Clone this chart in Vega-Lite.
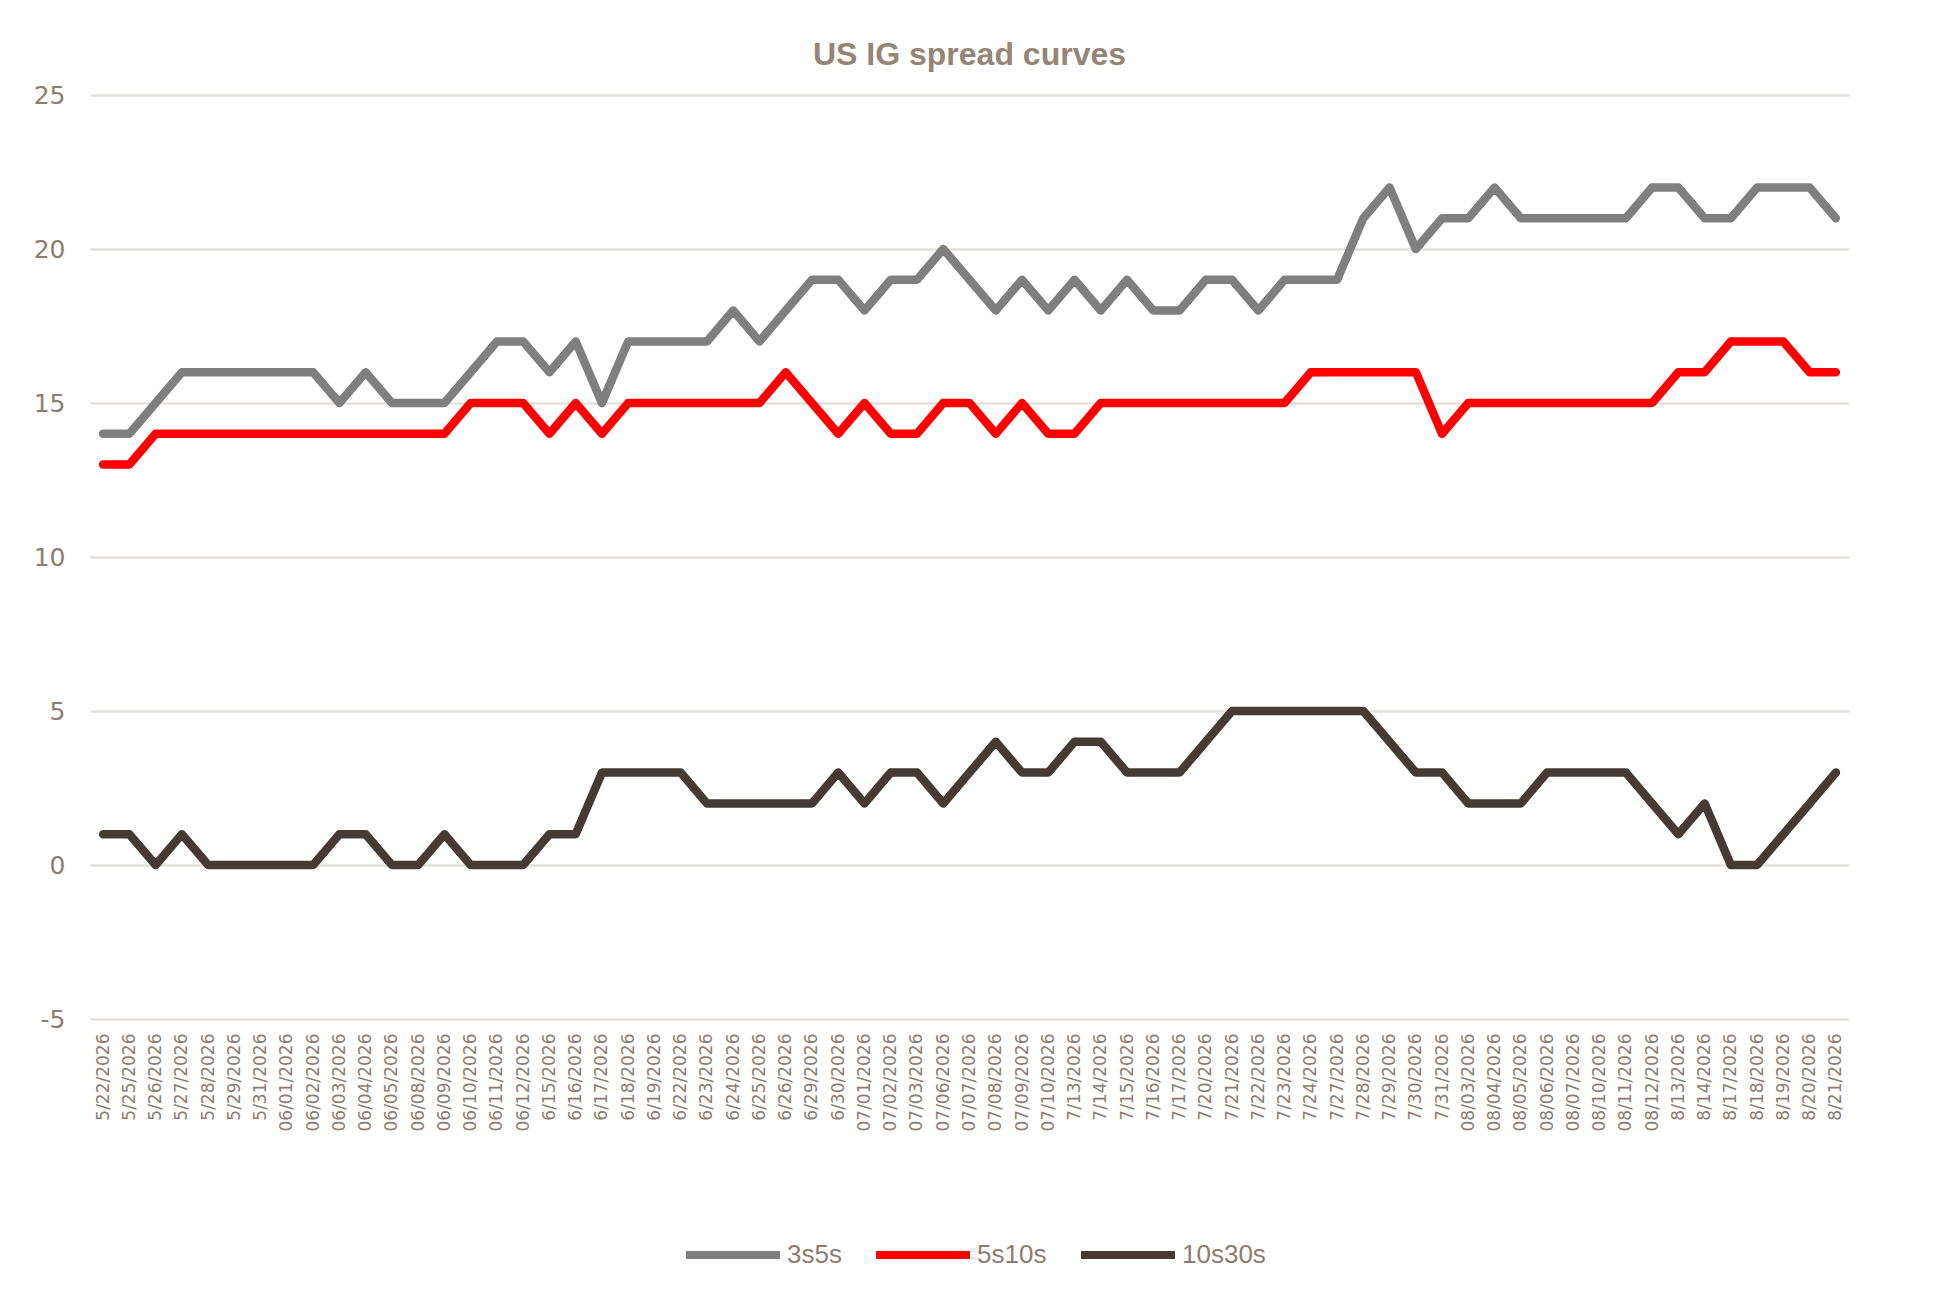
{
  "$schema": "https://vega.github.io/schema/vega-lite/v6.json",
  "autosize": "none",
  "width": 1759,
  "height": 924,
  "padding": {"left": 90, "top": 95, "right": 86, "bottom": 297},
  "background": "white",
  "title": {
    "text": "US IG spread curves",
    "font": "Liberation Sans",
    "fontSize": 32,
    "fontWeight": "bold",
    "color": "#948576",
    "anchor": "middle",
    "offset": 11
  },
  "data": {
    "values": [
      {"d": "5/22/2026", "s": "3s5s", "v": 14}, {"d": "5/22/2026", "s": "5s10s", "v": 13}, {"d": "5/22/2026", "s": "10s30s", "v": 1},
      {"d": "5/25/2026", "s": "3s5s", "v": 14}, {"d": "5/25/2026", "s": "5s10s", "v": 13}, {"d": "5/25/2026", "s": "10s30s", "v": 1},
      {"d": "5/26/2026", "s": "3s5s", "v": 15}, {"d": "5/26/2026", "s": "5s10s", "v": 14}, {"d": "5/26/2026", "s": "10s30s", "v": 0},
      {"d": "5/27/2026", "s": "3s5s", "v": 16}, {"d": "5/27/2026", "s": "5s10s", "v": 14}, {"d": "5/27/2026", "s": "10s30s", "v": 1},
      {"d": "5/28/2026", "s": "3s5s", "v": 16}, {"d": "5/28/2026", "s": "5s10s", "v": 14}, {"d": "5/28/2026", "s": "10s30s", "v": 0},
      {"d": "5/29/2026", "s": "3s5s", "v": 16}, {"d": "5/29/2026", "s": "5s10s", "v": 14}, {"d": "5/29/2026", "s": "10s30s", "v": 0},
      {"d": "5/31/2026", "s": "3s5s", "v": 16}, {"d": "5/31/2026", "s": "5s10s", "v": 14}, {"d": "5/31/2026", "s": "10s30s", "v": 0},
      {"d": "06/01/2026", "s": "3s5s", "v": 16}, {"d": "06/01/2026", "s": "5s10s", "v": 14}, {"d": "06/01/2026", "s": "10s30s", "v": 0},
      {"d": "06/02/2026", "s": "3s5s", "v": 16}, {"d": "06/02/2026", "s": "5s10s", "v": 14}, {"d": "06/02/2026", "s": "10s30s", "v": 0},
      {"d": "06/03/2026", "s": "3s5s", "v": 15}, {"d": "06/03/2026", "s": "5s10s", "v": 14}, {"d": "06/03/2026", "s": "10s30s", "v": 1},
      {"d": "06/04/2026", "s": "3s5s", "v": 16}, {"d": "06/04/2026", "s": "5s10s", "v": 14}, {"d": "06/04/2026", "s": "10s30s", "v": 1},
      {"d": "06/05/2026", "s": "3s5s", "v": 15}, {"d": "06/05/2026", "s": "5s10s", "v": 14}, {"d": "06/05/2026", "s": "10s30s", "v": 0},
      {"d": "06/08/2026", "s": "3s5s", "v": 15}, {"d": "06/08/2026", "s": "5s10s", "v": 14}, {"d": "06/08/2026", "s": "10s30s", "v": 0},
      {"d": "06/09/2026", "s": "3s5s", "v": 15}, {"d": "06/09/2026", "s": "5s10s", "v": 14}, {"d": "06/09/2026", "s": "10s30s", "v": 1},
      {"d": "06/10/2026", "s": "3s5s", "v": 16}, {"d": "06/10/2026", "s": "5s10s", "v": 15}, {"d": "06/10/2026", "s": "10s30s", "v": 0},
      {"d": "06/11/2026", "s": "3s5s", "v": 17}, {"d": "06/11/2026", "s": "5s10s", "v": 15}, {"d": "06/11/2026", "s": "10s30s", "v": 0},
      {"d": "06/12/2026", "s": "3s5s", "v": 17}, {"d": "06/12/2026", "s": "5s10s", "v": 15}, {"d": "06/12/2026", "s": "10s30s", "v": 0},
      {"d": "6/15/2026", "s": "3s5s", "v": 16}, {"d": "6/15/2026", "s": "5s10s", "v": 14}, {"d": "6/15/2026", "s": "10s30s", "v": 1},
      {"d": "6/16/2026", "s": "3s5s", "v": 17}, {"d": "6/16/2026", "s": "5s10s", "v": 15}, {"d": "6/16/2026", "s": "10s30s", "v": 1},
      {"d": "6/17/2026", "s": "3s5s", "v": 15}, {"d": "6/17/2026", "s": "5s10s", "v": 14}, {"d": "6/17/2026", "s": "10s30s", "v": 3},
      {"d": "6/18/2026", "s": "3s5s", "v": 17}, {"d": "6/18/2026", "s": "5s10s", "v": 15}, {"d": "6/18/2026", "s": "10s30s", "v": 3},
      {"d": "6/19/2026", "s": "3s5s", "v": 17}, {"d": "6/19/2026", "s": "5s10s", "v": 15}, {"d": "6/19/2026", "s": "10s30s", "v": 3},
      {"d": "6/22/2026", "s": "3s5s", "v": 17}, {"d": "6/22/2026", "s": "5s10s", "v": 15}, {"d": "6/22/2026", "s": "10s30s", "v": 3},
      {"d": "6/23/2026", "s": "3s5s", "v": 17}, {"d": "6/23/2026", "s": "5s10s", "v": 15}, {"d": "6/23/2026", "s": "10s30s", "v": 2},
      {"d": "6/24/2026", "s": "3s5s", "v": 18}, {"d": "6/24/2026", "s": "5s10s", "v": 15}, {"d": "6/24/2026", "s": "10s30s", "v": 2},
      {"d": "6/25/2026", "s": "3s5s", "v": 17}, {"d": "6/25/2026", "s": "5s10s", "v": 15}, {"d": "6/25/2026", "s": "10s30s", "v": 2},
      {"d": "6/26/2026", "s": "3s5s", "v": 18}, {"d": "6/26/2026", "s": "5s10s", "v": 16}, {"d": "6/26/2026", "s": "10s30s", "v": 2},
      {"d": "6/29/2026", "s": "3s5s", "v": 19}, {"d": "6/29/2026", "s": "5s10s", "v": 15}, {"d": "6/29/2026", "s": "10s30s", "v": 2},
      {"d": "6/30/2026", "s": "3s5s", "v": 19}, {"d": "6/30/2026", "s": "5s10s", "v": 14}, {"d": "6/30/2026", "s": "10s30s", "v": 3},
      {"d": "07/01/2026", "s": "3s5s", "v": 18}, {"d": "07/01/2026", "s": "5s10s", "v": 15}, {"d": "07/01/2026", "s": "10s30s", "v": 2},
      {"d": "07/02/2026", "s": "3s5s", "v": 19}, {"d": "07/02/2026", "s": "5s10s", "v": 14}, {"d": "07/02/2026", "s": "10s30s", "v": 3},
      {"d": "07/03/2026", "s": "3s5s", "v": 19}, {"d": "07/03/2026", "s": "5s10s", "v": 14}, {"d": "07/03/2026", "s": "10s30s", "v": 3},
      {"d": "07/06/2026", "s": "3s5s", "v": 20}, {"d": "07/06/2026", "s": "5s10s", "v": 15}, {"d": "07/06/2026", "s": "10s30s", "v": 2},
      {"d": "07/07/2026", "s": "3s5s", "v": 19}, {"d": "07/07/2026", "s": "5s10s", "v": 15}, {"d": "07/07/2026", "s": "10s30s", "v": 3},
      {"d": "07/08/2026", "s": "3s5s", "v": 18}, {"d": "07/08/2026", "s": "5s10s", "v": 14}, {"d": "07/08/2026", "s": "10s30s", "v": 4},
      {"d": "07/09/2026", "s": "3s5s", "v": 19}, {"d": "07/09/2026", "s": "5s10s", "v": 15}, {"d": "07/09/2026", "s": "10s30s", "v": 3},
      {"d": "07/10/2026", "s": "3s5s", "v": 18}, {"d": "07/10/2026", "s": "5s10s", "v": 14}, {"d": "07/10/2026", "s": "10s30s", "v": 3},
      {"d": "7/13/2026", "s": "3s5s", "v": 19}, {"d": "7/13/2026", "s": "5s10s", "v": 14}, {"d": "7/13/2026", "s": "10s30s", "v": 4},
      {"d": "7/14/2026", "s": "3s5s", "v": 18}, {"d": "7/14/2026", "s": "5s10s", "v": 15}, {"d": "7/14/2026", "s": "10s30s", "v": 4},
      {"d": "7/15/2026", "s": "3s5s", "v": 19}, {"d": "7/15/2026", "s": "5s10s", "v": 15}, {"d": "7/15/2026", "s": "10s30s", "v": 3},
      {"d": "7/16/2026", "s": "3s5s", "v": 18}, {"d": "7/16/2026", "s": "5s10s", "v": 15}, {"d": "7/16/2026", "s": "10s30s", "v": 3},
      {"d": "7/17/2026", "s": "3s5s", "v": 18}, {"d": "7/17/2026", "s": "5s10s", "v": 15}, {"d": "7/17/2026", "s": "10s30s", "v": 3},
      {"d": "7/20/2026", "s": "3s5s", "v": 19}, {"d": "7/20/2026", "s": "5s10s", "v": 15}, {"d": "7/20/2026", "s": "10s30s", "v": 4},
      {"d": "7/21/2026", "s": "3s5s", "v": 19}, {"d": "7/21/2026", "s": "5s10s", "v": 15}, {"d": "7/21/2026", "s": "10s30s", "v": 5},
      {"d": "7/22/2026", "s": "3s5s", "v": 18}, {"d": "7/22/2026", "s": "5s10s", "v": 15}, {"d": "7/22/2026", "s": "10s30s", "v": 5},
      {"d": "7/23/2026", "s": "3s5s", "v": 19}, {"d": "7/23/2026", "s": "5s10s", "v": 15}, {"d": "7/23/2026", "s": "10s30s", "v": 5},
      {"d": "7/24/2026", "s": "3s5s", "v": 19}, {"d": "7/24/2026", "s": "5s10s", "v": 16}, {"d": "7/24/2026", "s": "10s30s", "v": 5},
      {"d": "7/27/2026", "s": "3s5s", "v": 19}, {"d": "7/27/2026", "s": "5s10s", "v": 16}, {"d": "7/27/2026", "s": "10s30s", "v": 5},
      {"d": "7/28/2026", "s": "3s5s", "v": 21}, {"d": "7/28/2026", "s": "5s10s", "v": 16}, {"d": "7/28/2026", "s": "10s30s", "v": 5},
      {"d": "7/29/2026", "s": "3s5s", "v": 22}, {"d": "7/29/2026", "s": "5s10s", "v": 16}, {"d": "7/29/2026", "s": "10s30s", "v": 4},
      {"d": "7/30/2026", "s": "3s5s", "v": 20}, {"d": "7/30/2026", "s": "5s10s", "v": 16}, {"d": "7/30/2026", "s": "10s30s", "v": 3},
      {"d": "7/31/2026", "s": "3s5s", "v": 21}, {"d": "7/31/2026", "s": "5s10s", "v": 14}, {"d": "7/31/2026", "s": "10s30s", "v": 3},
      {"d": "08/03/2026", "s": "3s5s", "v": 21}, {"d": "08/03/2026", "s": "5s10s", "v": 15}, {"d": "08/03/2026", "s": "10s30s", "v": 2},
      {"d": "08/04/2026", "s": "3s5s", "v": 22}, {"d": "08/04/2026", "s": "5s10s", "v": 15}, {"d": "08/04/2026", "s": "10s30s", "v": 2},
      {"d": "08/05/2026", "s": "3s5s", "v": 21}, {"d": "08/05/2026", "s": "5s10s", "v": 15}, {"d": "08/05/2026", "s": "10s30s", "v": 2},
      {"d": "08/06/2026", "s": "3s5s", "v": 21}, {"d": "08/06/2026", "s": "5s10s", "v": 15}, {"d": "08/06/2026", "s": "10s30s", "v": 3},
      {"d": "08/07/2026", "s": "3s5s", "v": 21}, {"d": "08/07/2026", "s": "5s10s", "v": 15}, {"d": "08/07/2026", "s": "10s30s", "v": 3},
      {"d": "08/10/2026", "s": "3s5s", "v": 21}, {"d": "08/10/2026", "s": "5s10s", "v": 15}, {"d": "08/10/2026", "s": "10s30s", "v": 3},
      {"d": "08/11/2026", "s": "3s5s", "v": 21}, {"d": "08/11/2026", "s": "5s10s", "v": 15}, {"d": "08/11/2026", "s": "10s30s", "v": 3},
      {"d": "08/12/2026", "s": "3s5s", "v": 22}, {"d": "08/12/2026", "s": "5s10s", "v": 15}, {"d": "08/12/2026", "s": "10s30s", "v": 2},
      {"d": "8/13/2026", "s": "3s5s", "v": 22}, {"d": "8/13/2026", "s": "5s10s", "v": 16}, {"d": "8/13/2026", "s": "10s30s", "v": 1},
      {"d": "8/14/2026", "s": "3s5s", "v": 21}, {"d": "8/14/2026", "s": "5s10s", "v": 16}, {"d": "8/14/2026", "s": "10s30s", "v": 2},
      {"d": "8/17/2026", "s": "3s5s", "v": 21}, {"d": "8/17/2026", "s": "5s10s", "v": 17}, {"d": "8/17/2026", "s": "10s30s", "v": 0},
      {"d": "8/18/2026", "s": "3s5s", "v": 22}, {"d": "8/18/2026", "s": "5s10s", "v": 17}, {"d": "8/18/2026", "s": "10s30s", "v": 0},
      {"d": "8/19/2026", "s": "3s5s", "v": 22}, {"d": "8/19/2026", "s": "5s10s", "v": 17}, {"d": "8/19/2026", "s": "10s30s", "v": 1},
      {"d": "8/20/2026", "s": "3s5s", "v": 22}, {"d": "8/20/2026", "s": "5s10s", "v": 16}, {"d": "8/20/2026", "s": "10s30s", "v": 2},
      {"d": "8/21/2026", "s": "3s5s", "v": 21}, {"d": "8/21/2026", "s": "5s10s", "v": 16}, {"d": "8/21/2026", "s": "10s30s", "v": 3}
    ]
  },
  "mark": {"type": "line", "strokeWidth": 8.5, "strokeCap": "round", "strokeJoin": "round"},
  "encoding": {
    "x": {
      "field": "d",
      "type": "ordinal",
      "sort": null,
      "scale": {"type": "point", "padding": 0.5},
      "axis": {
        "title": null,
        "labelAngle": 270,
        "labelPadding": 14,
        "labelFont": "DejaVu Sans",
        "labelFontSize": 17,
        "labelColor": "#8b7d70",
        "domain": false,
        "ticks": false,
        "grid": false,
        "labelOverlap": false
      }
    },
    "y": {
      "field": "v",
      "type": "quantitative",
      "scale": {"domain": [-5, 25], "nice": false},
      "axis": {
        "title": null,
        "values": [-5, 0, 5, 10, 15, 20, 25],
        "labelExpr": "'' + datum.value",
        "labelPadding": 25,
        "labelFont": "DejaVu Sans",
        "labelFontSize": 25,
        "labelColor": "#8b7d70",
        "domain": false,
        "ticks": false,
        "grid": true,
        "gridColor": "#e4e1dc",
        "gridWidth": 2.5
      }
    },
    "color": {
      "field": "s",
      "type": "nominal",
      "sort": ["3s5s", "5s10s", "10s30s"],
      "scale": {"domain": ["3s5s", "5s10s", "10s30s"], "range": ["#7f7f7f", "#ff0000", "#453b34"]},
      "legend": {
        "title": null,
        "orient": "none",
        "direction": "horizontal",
        "legendX": 592,
        "legendY": 1109,
        "symbolType": "stroke",
        "symbolSize": 8836,
        "symbolStrokeWidth": 8,
        "labelFont": "Liberation Sans",
        "labelFontSize": 26,
        "labelColor": "#8b7d70",
        "labelOffset": 3,
        "columnPadding": 18
      }
    }
  },
  "config": {"view": {"stroke": null}}
}
